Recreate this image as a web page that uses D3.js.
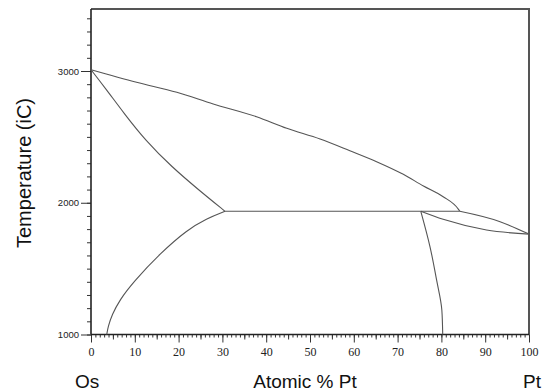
<!DOCTYPE html>
<html>
<head>
<meta charset="utf-8">
<script src="https://cdn.jsdelivr.net/npm/d3@7"></script>
<style>
  body { margin: 0; background: #fff; }
  svg { display: block; }
  .serif text { font-family: "Times New Roman", "Liberation Serif", "DejaVu Serif", serif; font-size: 12px; }
</style>
</head>
<body>
<svg id="chart" width="542" height="392"></svg>
<script>
// Os-Pt phase diagram, [atomic % Pt, temperature]
const liquidus = [[0, 3010], [10.4, 2914], [19.6, 2838], [27.9, 2750], [37.8, 2653], [44.7, 2565],
   [52.3, 2484], [59.1, 2395], [65.2, 2312], [71.3, 2216], [75.9, 2127], [80.4, 2046], [83.9, 1950], [84.2, 1935]];
const liquidusPt = [[84.2, 1935], [93.4, 1856], [100, 1762]];
const solidusOs = [[0, 3010], [3.5, 2860], [7.5, 2680], [12.5, 2470], [18.5, 2270], [24.5, 2100], [30.6, 1935]];
const solvusOs = [[3.6, 1000], [3.9, 1060], [4.8, 1150], [6.5, 1260], [9.7, 1400], [15.8, 1616], [21.9, 1793], [26.4, 1880], [30.6, 1935]];
const solidusPt = [[75.3, 1935], [80.4, 1874], [90.3, 1793], [100, 1762]];
const solvusPt = [[80.3, 1000], [80.1, 1186], [78.9, 1414], [77.4, 1666], [75.3, 1935]];
const peritectic = [[30.6, 1935], [84.2, 1935]];

const xTickLabels = [0, 10, 20, 30, 40, 50, 60, 70, 80, 90, 100];
const yTickLabels = [1000, 2000, 3000];

const svg = d3.select("#chart");
const mLeft = 91, mRight = 529, mTop = 9, mBottom = 334.5;

const x = d3.scaleLinear().domain([0, 100]).range([mLeft, mRight]);
const y = d3.scaleLinear().domain([1000, 3000]).range([mBottom, 71]);

// frame top/right
svg.append("path")
   .attr("d", `M${mLeft},${mTop}H${mRight}V${mBottom}`)
   .attr("fill", "none")
   .attr("stroke", "#555")
   .attr("stroke-width", 2);

// x axis: minor, mid and major ticks
const gx = svg.append("g").attr("transform", `translate(0,${mBottom})`);
gx.append("g").call(d3.axisBottom(x).tickValues(d3.range(0, 101)).tickSize(3).tickSizeOuter(0).tickFormat(""));
gx.append("g").call(d3.axisBottom(x).tickValues(d3.range(5, 100, 10)).tickSize(5).tickSizeOuter(0).tickFormat(""));
gx.append("g").attr("class", "serif")
   .call(d3.axisBottom(x).tickValues(xTickLabels).tickSize(8).tickSizeOuter(0).tickPadding(5));
gx.selectAll("text").attr("fill", "#222");

// y axis
const yMax = y.invert(mTop);
const gy = svg.append("g").attr("transform", `translate(${mLeft},0)`);
gy.append("g").call(d3.axisLeft(y).tickValues(d3.range(1000, yMax, 100)).tickSize(4).tickSizeOuter(0).tickFormat(""));
gy.append("g").call(d3.axisLeft(y).tickValues(yTickLabels).tickSize(10).tickSizeOuter(0).tickPadding(2).tickFormat(d3.format("d")));
gy.selectAll("text")
   .style("font-family", "'Liberation Sans', Arial, sans-serif")
   .style("font-size", "9.5px")
   .attr("fill", "#222");

svg.selectAll(".domain").remove();
svg.append("line")
   .attr("x1", mLeft).attr("x2", mLeft).attr("y1", mTop).attr("y2", mBottom)
   .attr("stroke", "#222").attr("stroke-width", 1.6);
svg.append("line")
   .attr("x1", mLeft).attr("x2", mRight).attr("y1", mBottom).attr("y2", mBottom)
   .attr("stroke", "#222").attr("stroke-width", 1.6);
svg.selectAll(".tick line").attr("stroke", "#333");

// phase boundaries
const lineX = d3.line().x(d => x(d[0])).y(d => y(d[1])).curve(d3.curveMonotoneX);
const lineB = d3.line().x(d => x(d[0])).y(d => y(d[1])).curve(d3.curveBasis);
const lineY = d3.line().x(d => x(d[0])).y(d => y(d[1])).curve(d3.curveMonotoneY);
const draw = (d, gen) => svg.append("path")
   .datum(d)
   .attr("d", gen)
   .attr("fill", "none")
   .attr("stroke", "#555")
   .attr("stroke-width", 1.1);
[liquidus, liquidusPt, solidusPt, peritectic].forEach(d => draw(d, lineX));
[solidusOs, solvusOs].forEach(d => draw(d, lineB));
draw(solvusPt, lineY);

// labels
const lab = (t, xx, yy, anchor) => svg.append("text")
   .attr("x", xx).attr("y", yy)
   .attr("text-anchor", anchor)
   .style("font-family", "'Liberation Sans', Arial, sans-serif")
   .style("font-size", "19px")
   .attr("fill", "#111")
   .text(t);
lab("Os", 75, 388, "start");
lab("Atomic % Pt", 305, 388, "middle");
lab("Pt", 523, 388, "start");

svg.append("text")
   .attr("transform", "translate(31,173) rotate(-90)")
   .attr("text-anchor", "middle")
   .style("font-family", "'Liberation Sans', Arial, sans-serif")
   .style("font-size", "20px")
   .attr("fill", "#111")
   .text("Temperature (iC)");
</script>
</body>
</html>
